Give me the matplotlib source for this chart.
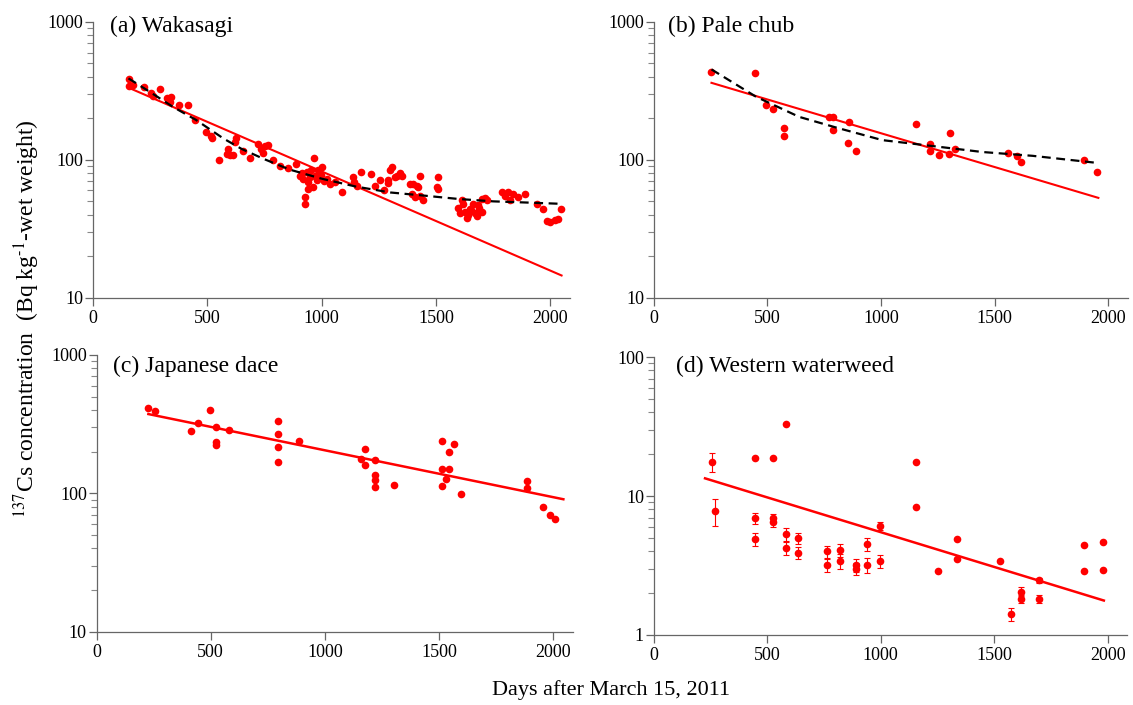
import numpy as np
import matplotlib.pyplot as plt
from matplotlib.ticker import LogLocator, NullFormatter

plt.rcParams['font.family'] = ['Liberation Serif', 'DejaVu Serif']
plt.rcParams['mathtext.fontset'] = 'stix'

# (a) Wakasagi
wak_day = [157, 157, 176, 224, 254, 264, 293, 322, 341, 337, 376, 414, 446, 493, 522, 515,
           551, 592, 599, 585, 613, 624, 622, 657, 686, 722, 735, 745, 752, 767, 788, 818,
           854, 886, 968, 905, 920, 934, 949, 970, 985, 1000, 941, 941, 927, 927, 912, 955,
           978, 995, 1010, 960, 1022, 1036, 1058, 1087, 1138, 1143, 1153, 1172, 1216, 1233,
           1255, 1274, 1290, 1299, 1309, 1328, 1342, 1350, 1321, 1290, 1386, 1393, 1430,
           1415, 1400, 1408, 1430, 1444, 1422, 1510, 1503, 1510, 1597, 1620, 1627, 1641,
           1648, 1663, 1670, 1685, 1699, 1699, 1714, 1721, 1612, 1605, 1635, 1655, 1680,
           1690, 1787, 1801, 1816, 1823, 1838, 1859, 1889, 1940, 1969, 1984, 1998, 2020,
           2035, 2045]
wak_val = [383, 343, 349, 335, 303, 290, 324, 279, 284, 264, 252, 252, 196, 160, 145, 150,
           99, 119, 108, 111, 108, 145, 135, 116, 104, 131, 120, 112, 125, 128, 99, 90,
           88, 94, 104, 77, 73, 82, 75, 77, 84, 89, 69, 61, 54, 48, 80, 85,
           72, 78, 70, 64, 73, 67, 69, 58, 75, 69, 65, 81, 79, 65,
           71, 60, 71, 84, 89, 77, 80, 77, 75, 68, 67, 57, 76,
           65, 67, 54, 55, 51, 64, 75, 64, 61, 45, 48, 42, 40,
           44, 48, 41, 47, 42, 52, 53, 51, 51, 41, 38, 43, 39,
           45, 58, 55, 58, 51, 57, 54, 57, 48, 44, 36, 35.5, 36.5,
           37, 44]
wak_fit_day = [157, 2049]
wak_fit_val = [333, 14.5]
wak_curve_day = [155, 250, 350, 450, 570, 650, 750, 860, 1000, 1150, 1300, 1450, 1600, 1750, 1900, 2045]
wak_curve_val = [390, 310, 242, 195, 143, 120, 101, 85, 73, 64, 58, 55, 52, 50, 49, 48]

# (b) Pale chub
chub_day = [254, 445, 493, 523, 575, 575, 772, 789, 789, 857, 855, 890, 1153, 1216, 1216,
            1253, 1303, 1300, 1326, 1559, 1596, 1615, 1894, 1952]
chub_val = [435, 430, 249, 233, 171, 150, 205, 205, 166, 188, 133, 116, 181, 130, 116,
            108, 157, 110, 119, 113, 107, 97, 99, 81]
chub_fit_day = [254, 1956]
chub_fit_val = [362, 53]
chub_curve_day = [254, 450, 640, 800, 1006, 1226, 1446, 1666, 1952]
chub_curve_val = [453, 287, 205, 172, 139, 126, 114, 107, 95]

# (c) Japanese dace
dace_day = [227, 256, 414, 446, 497, 523, 523, 523, 581, 793, 793, 793, 793, 888, 1176,
            1157, 1176, 1219, 1219, 1219, 1219, 1302, 1514, 1565, 1544, 1514, 1544, 1529,
            1514, 1595, 1883, 1883, 1954, 1986, 2008]
dace_val = [416, 394, 282, 321, 398, 303, 236, 223, 287, 333, 270, 217, 169, 238, 208,
            177, 160, 174, 136, 125, 112, 114, 240, 226, 198, 150, 150, 126,
            113, 99, 123, 110, 80, 70, 65]
dace_fit_day = [227, 2044]
dace_fit_val = [374, 90.6]

# (d) Western waterweed
weed_day = [256, 270, 447, 447, 447, 525, 525, 525, 584, 584, 584, 637, 637, 763, 763,
            820, 820, 889, 889, 938, 938, 999, 999, 1155, 1155, 1253, 1336, 1336, 1524,
            1572, 1616, 1616, 1696, 1696, 1895, 1895, 1978, 1978]
weed_val = [17.6, 7.8, 18.7, 6.9, 4.9, 18.7, 6.9, 6.5, 33, 5.3, 4.2, 5.0, 3.9, 4.0, 3.2,
            4.1, 3.4, 3.2, 3.0, 4.5, 3.2, 6.1, 3.4, 17.6, 8.4, 2.9, 4.9, 3.5, 3.4,
            1.42, 2.05, 1.81, 2.47, 1.81, 4.47, 2.9, 4.7, 2.95]
weed_err = [2.8, 1.7, 0, 0.6, 0.55, 0, 0.5, 0.5, 0, 0.55, 0.45, 0.45, 0.4, 0.4, 0.35,
            0.45, 0.4, 0.35, 0.3, 0.45, 0.4, 0.45, 0.35, 0, 0, 0, 0, 0, 0,
            0.15, 0.15, 0.12, 0.12, 0.12, 0, 0, 0, 0]
weed_fit_day = [226, 1983]
weed_fit_val = [13.4, 1.77]

xticks = [0, 500, 1000, 1500, 2000]


def style_axis(ax, ymin, ymax, title, tx, ty):
    ax.set_yscale('log')
    ax.set_xlim(0, 2085)
    ax.set_ylim(ymin, ymax)
    ax.set_xticks(xticks)
    ax.set_xticklabels([str(t) for t in xticks])
    majors = [ymin, ymin * 10, ymax]
    ax.set_yticks(majors)
    ax.set_yticklabels([str(int(m)) for m in majors])
    ax.yaxis.set_minor_locator(LogLocator(base=10, subs=np.arange(2, 10)))
    ax.yaxis.set_minor_formatter(NullFormatter())
    for s in ['top', 'right']:
        ax.spines[s].set_visible(False)
    for s in ['left', 'bottom']:
        ax.spines[s].set_color('#666666')
        ax.spines[s].set_linewidth(0.9)
    ax.tick_params(which='major', direction='out', length=5.5, width=0.9, color='#666666',
                   labelsize=13)
    ax.tick_params(axis='y', which='major', pad=1.5)
    ax.tick_params(which='minor', direction='out', length=4.5, width=0.8, color='#888888')
    ax.text(tx, ty, title, transform=ax.transAxes, fontsize=17, va='center', ha='left')


fig = plt.figure(figsize=(11.33, 7.05), dpi=100)

ax_a = fig.add_axes([0.0821, 0.5777, 0.4208, 0.3911])
ax_b = fig.add_axes([0.5770, 0.5777, 0.4183, 0.3911])
ax_c = fig.add_axes([0.0852, 0.1040, 0.4203, 0.3925])
ax_d = fig.add_axes([0.5770, 0.0993, 0.4177, 0.3943])

dash = (0, (4, 2.5))

ax_a.plot(wak_day, wak_val, 'o', color='red', ms=5.5, mec='none', zorder=3)
ax_a.plot(wak_fit_day, wak_fit_val, color='red', lw=1.5, zorder=2)
ax_a.plot(wak_curve_day, wak_curve_val, color='black', lw=1.6, linestyle=dash, zorder=4)
style_axis(ax_a, 10, 1000, '(a) Wakasagi', 0.036, 0.985)

ax_b.plot(chub_day, chub_val, 'o', color='red', ms=5.5, mec='none', zorder=3)
ax_b.plot(chub_fit_day, chub_fit_val, color='red', lw=1.5, zorder=2)
ax_b.plot(chub_curve_day, chub_curve_val, color='black', lw=1.6, linestyle=dash, zorder=4)
style_axis(ax_b, 10, 1000, '(b) Pale chub', 0.031, 0.985)

ax_c.plot(dace_day, dace_val, 'o', color='red', ms=5.5, mec='none', zorder=3)
ax_c.plot(dace_fit_day, dace_fit_val, color='red', lw=1.8, zorder=2)
style_axis(ax_c, 10, 1000, '(c) Japanese dace', 0.034, 0.958)

ax_d.errorbar(weed_day, weed_val, yerr=weed_err, fmt='o', color='red', ms=5.5, mec='none',
              ecolor='red', elinewidth=0.8, capsize=2, capthick=0.8, zorder=3)
ax_d.plot(weed_fit_day, weed_fit_val, color='red', lw=1.8, zorder=2)
style_axis(ax_d, 1, 100, '(d) Western waterweed', 0.046, 0.965)

fig.text(0.024, 0.548, r'$^{137}$Cs concentration  (Bq kg$^{\text{-}1}$-wet weight)',
         rotation=90, ha='center', va='center', fontsize=17)
fig.text(0.539, 0.021, 'Days after March 15, 2011', ha='center', va='center', fontsize=16)

fig.savefig('out.png', dpi=100)
